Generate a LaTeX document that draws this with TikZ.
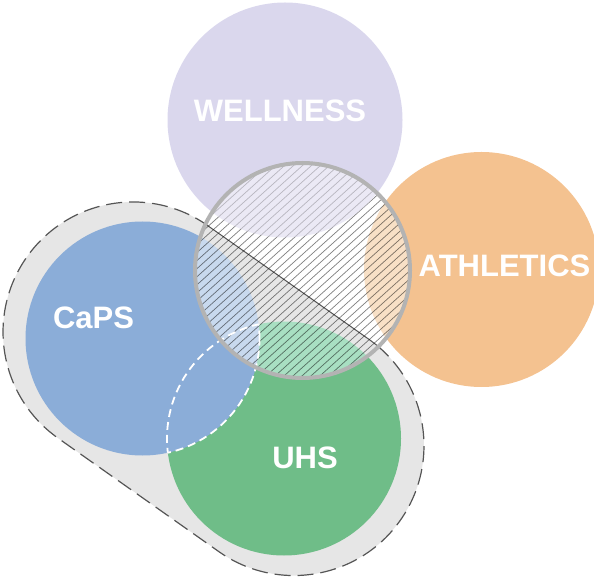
\documentclass[tikz,border=0pt]{standalone}
\usepackage{fontspec}
\setmainfont{Liberation Sans}
\definecolor{lav}{HTML}{DAD7ED}
\definecolor{lavlight}{HTML}{EBE9F5}
\definecolor{ora}{HTML}{F4C290}
\definecolor{oralight}{HTML}{F8E0C6}
\definecolor{blu}{HTML}{8BADD8}
\definecolor{blulight}{HTML}{C8D9EE}
\definecolor{grn}{HTML}{6FBD88}
\definecolor{grnlight}{HTML}{A8DFC2}
\definecolor{blobgray}{HTML}{E6E6E6}
\definecolor{blobline}{HTML}{555555}
\definecolor{ringgray}{HTML}{B3B3B3}
\tikzset{
  lbl/.style={text=white, font=\bfseries\fontsize{31}{31}\selectfont, anchor=base, inner sep=0pt},
  lensdash/.style={draw=white, line width=1.8pt, dash pattern=on 8pt off 5pt},
  blobborder/.style={draw=blobline, line width=1.2pt, dash pattern=on 16pt off 7pt},
  hatchdark/.style={draw=black, draw opacity=0.5, line width=0.7pt},
  hatchlight/.style={draw=black, draw opacity=0.22, line width=0.7pt},
}
\begin{document}
\begin{tikzpicture}[x=1pt,y=1pt]
\useasboundingbox (0,0) rectangle (594,576);
\def\wellC{(285,456) circle[radius=117.5]}
\def\athC{(481.5,306.5) circle[radius=117.5]}
\def\capsC{(142.5,237.5) circle[radius=117]}
\def\uhsC{(284,137.5) circle[radius=117]}
\def\hatchC{(302.5,305.5) circle[radius=107.5]}
\def\blobP{(207.9,350.2) -- (368.9,236.7) arc[start angle=54.8, end angle=-125.2, radius=130] -- (58.1,137.8) arc[start angle=-125.2, end angle=-305.2, radius=130] -- cycle}
% base layer
\path[fill=blobgray] \blobP;
\path[blobborder] \blobP;
\path[fill=grn] \uhsC;
\path[fill=blu] \capsC;
\path[fill=lav] \wellC;
\path[fill=ora] \athC;
% hatched circle interior
\begin{scope}
  \clip \hatchC;
  \path[fill=white] \hatchC;
  \path[fill=oralight] \athC;
  \path[fill=blobgray] \blobP;
  \path[draw=blobline, line width=1pt] \blobP;
  \path[fill=grnlight] \uhsC;
  \path[fill=blulight] \capsC;
  \begin{scope}[shift={(302.5,305.5)}, rotate=42]
    \foreach \i in {-19,...,19} \draw[hatchdark] (-115,\i*6) -- (115,\i*6);
  \end{scope}
  \path[fill=lavlight] \wellC;
  \begin{scope}
    \clip \wellC;
    \begin{scope}[shift={(302.5,305.5)}, rotate=42]
      \foreach \i in {-19,...,19} \draw[hatchlight] (-115,\i*6) -- (115,\i*6);
    \end{scope}
  \end{scope}
\end{scope}
% dashed lens between CaPS and UHS
\begin{scope}
  \clip \capsC;
  \path[lensdash] \uhsC;
\end{scope}
\begin{scope}
  \clip \uhsC;
  \path[lensdash] \capsC;
\end{scope}
% ring
\path[draw=ringgray, line width=4pt] \hatchC;
% labels
\node[lbl] (wellness) at (280,454) {WELLNESS};
\node[lbl] (athletics) at (504.5,299.3) {ATHLETICS};
\node[lbl] (caps) at (93.5,247) {CaPS};
\node[lbl] (uhs) at (305,107.7) {UHS};
\end{tikzpicture}
\end{document}
